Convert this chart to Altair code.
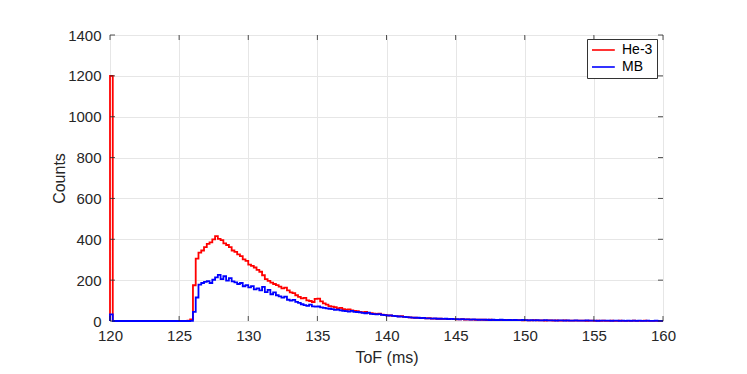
import altair as alt
import pandas as pd
import numpy as np

# histogram bins: 0.2 ms wide, starting at 120.0 ms
BIN_START = 120.0
BIN_WIDTH = 0.2

he3_counts = [
    1200, 0, 0, 0, 0, 0, 0, 0, 0, 0,
    0, 0, 0, 0, 0, 0, 0, 0, 0, 0,
    0, 0, 0, 0, 0, 0, 0, 1, 2, 8,
    175, 305, 335, 345, 362, 378, 385, 400, 415, 402,
    396, 380, 372, 362, 345, 338, 326, 318, 302, 294,
    276, 270, 262, 250, 241, 224, 205, 196, 188, 181,
    176, 168, 160, 163, 150, 140, 136, 126, 118, 111,
    113, 101, 98, 93, 108, 110, 96, 86, 80, 73,
    70, 68, 62, 64, 58, 55, 57, 52, 50, 48,
    45, 42, 44, 40, 38, 36, 35, 36, 31, 30,
    28, 27, 25, 24, 23, 24, 20, 19, 18, 17,
    16, 15, 15, 14, 13, 14, 12, 12, 11, 11,
    10, 10, 9, 10, 9, 8, 8, 9, 7, 8,
    7, 7, 6, 7, 6, 6, 5, 6, 5, 5,
    5, 5, 4, 5, 4, 4, 5, 4, 4, 3,
    4, 3, 3, 4, 3, 3, 3, 2, 3, 3,
    2, 3, 2, 2, 3, 2, 2, 2, 2, 2,
    2, 2, 1, 2, 2, 1, 2, 1, 2, 1,
    1, 2, 1, 1, 2, 1, 1, 1, 1, 2,
    1, 1, 1, 2, 1, 1, 1, 1, 1, 1,
]

mb_counts = [
    32, 0, 0, 0, 0, 0, 0, 0, 0, 0,
    0, 0, 0, 0, 0, 0, 0, 0, 0, 0,
    0, 0, 0, 0, 0, 0, 0, 0, 0, 1,
    45, 115, 178, 186, 192, 195, 186, 202, 214, 226,
    205, 219, 198, 210, 194, 189, 181, 186, 170, 176,
    165, 171, 155, 160, 150, 167, 141, 152, 131, 140,
    126, 121, 114, 119, 104, 100, 103, 94, 89, 82,
    78, 74, 80, 72, 70, 71, 67, 64, 62, 60,
    58, 55, 56, 52, 50, 48, 46, 50, 45, 44,
    42, 40, 38, 41, 35, 34, 32, 34, 30, 29,
    27, 28, 25, 24, 22, 21, 20, 19, 18, 17,
    16, 16, 14, 15, 13, 13, 12, 13, 11, 11,
    10, 11, 9, 10, 9, 9, 8, 9, 8, 8,
    7, 8, 7, 6, 7, 6, 6, 5, 6, 5,
    5, 6, 5, 4, 5, 4, 5, 4, 4, 5,
    4, 3, 4, 3, 4, 3, 3, 4, 3, 3,
    3, 2, 3, 3, 2, 3, 2, 2, 3, 2,
    2, 2, 3, 2, 2, 2, 1, 2, 2, 2,
    2, 1, 2, 2, 1, 2, 1, 2, 1, 2,
    1, 2, 1, 1, 2, 1, 1, 2, 1, 1,
]

series_names = ["He-3", "MB"]
series_colors = ["#ff0000", "#0000ff"]
x_ticks = [120, 125, 130, 135, 140, 145, 150, 155, 160]
y_ticks = [0, 200, 400, 600, 800, 1000, 1200, 1400]


def make_df(counts, name):
    edges = BIN_START + BIN_WIDTH * np.arange(len(counts))
    xs = [BIN_START] + list(edges) + [BIN_START + BIN_WIDTH * len(counts)]
    ys = [0] + list(counts) + [counts[-1]]
    return pd.DataFrame({"t": xs, "c": ys, "series": name})


W, H = 553, 286
FONT = "Liberation Sans"
AX = "#262626"

color = alt.Color(
    "series:N",
    scale=alt.Scale(domain=series_names, range=series_colors),
    legend=alt.Legend(
        title=None, orient="none", legendX=477, legendY=4,
        symbolType="M-1,0H2.8", symbolSize=144, symbolStrokeWidth=1.6,
        labelFontSize=14, labelFont=FONT, labelColor="#000",
        strokeColor="#333", fillColor="white", padding=4,
        rowPadding=3, labelOffset=17, cornerRadius=0,
    ),
)

xsc = alt.Scale(domain=[120, 160], nice=False, zero=False)
ysc = alt.Scale(domain=[0, 1400], nice=False)

x_enc = alt.X(
    "t:Q", scale=xsc, title="ToF (ms)",
    axis=alt.Axis(values=x_ticks, tickSize=0, labelPadding=7, titlePadding=6,
                  grid=True, gridColor="#e6e6e6", domain=False, labelFlush=False,
                  format="d",
                  labelFontSize=15, titleFontSize=16, labelFont=FONT, titleFont=FONT,
                  labelColor=AX, titleColor=AX, titleFontWeight="normal"),
)
y_enc = alt.Y(
    "c:Q", scale=ysc, title="Counts",
    axis=alt.Axis(values=y_ticks, tickSize=0, labelPadding=9, titlePadding=0,
                  grid=True, gridColor="#e6e6e6", domain=False, labelFlush=False,
                  format="d",
                  labelFontSize=15, titleFontSize=16, labelFont=FONT, titleFont=FONT,
                  labelColor=AX, titleColor=AX, titleFontWeight="normal"),
)

he3 = alt.Chart(make_df(he3_counts, "He-3")).mark_line(
    interpolate="step-after", strokeWidth=1.8
).encode(x=x_enc, y=y_enc, color=color)

mb = alt.Chart(make_df(mb_counts, "MB")).mark_line(
    interpolate="step-after", strokeWidth=1.8
).encode(x=alt.X("t:Q", scale=xsc), y=alt.Y("c:Q", scale=ysc), color=color)

xt = pd.DataFrame({"t": x_ticks})
yt = pd.DataFrame({"c": y_ticks})
tick_len = 5
bot_ticks = alt.Chart(xt).mark_rule(color=AX, strokeWidth=0.8).encode(
    x=alt.X("t:Q", scale=xsc), y=alt.value(H - tick_len), y2=alt.value(H))
top_ticks = alt.Chart(xt).mark_rule(color=AX, strokeWidth=0.8).encode(
    x=alt.X("t:Q", scale=xsc), y=alt.value(0), y2=alt.value(tick_len))
left_ticks = alt.Chart(yt).mark_rule(color=AX, strokeWidth=0.8).encode(
    y=alt.Y("c:Q", scale=ysc), x=alt.value(0), x2=alt.value(tick_len))
right_ticks = alt.Chart(yt).mark_rule(color=AX, strokeWidth=0.8).encode(
    y=alt.Y("c:Q", scale=ysc), x=alt.value(W - tick_len), x2=alt.value(W))

chart = alt.layer(he3, mb, bot_ticks, top_ticks, left_ticks, right_ticks).properties(
    width=W, height=H,
    autosize=alt.AutoSizeParams(type="none"),
    padding={"left": 102, "top": 27, "right": 76, "bottom": 45},
).configure_view(
    stroke="#262626", strokeWidth=1
).configure(background="white")

chart.save("out.html", embed_options={"renderer": "svg", "actions": False})
